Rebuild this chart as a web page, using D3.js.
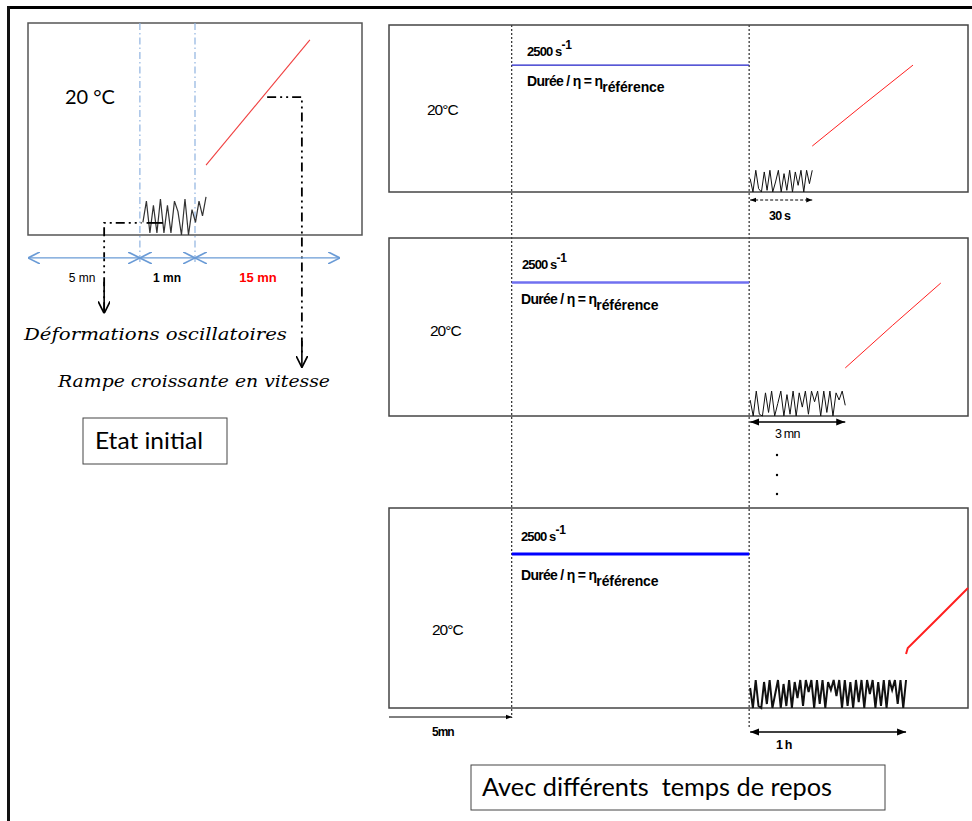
<!DOCTYPE html>
<html><head><meta charset="utf-8">
<script src="https://cdn.jsdelivr.net/npm/d3@7"></script>
<style>body{margin:0;background:#fff}svg{display:block}</style>
</head><body>
<script>
// ---------------- DATA (schematic units: x = % of panel width, y = % of panel height) ----------------
const leftPhases = [33.5, 50];            // end of rest (5 mn), end of oscillations (1 mn)
const leftPhaseLabels = ["5 mn", "1 mn", "15 mn"];
const leftOsc = [6,16,1,14,1,17,1,14,1,16,11,0,17,0,12,6,16,9,18];  // oscillatory deformation, initial state
const leftRamp = [[53.3,33],[84.4,92]];                              // increasing shear-rate ramp

const restLabels = ["30 s", "3 mn", "1 h"];
const shearLabel = "2500 s";
const shearPhase = [21.2, 62.2];          // pre-shear start / end
const restEnd = [73.1, 78.8, 89.3];       // end of rest/oscillation period per panel
const shearLevel = [76, 75, 77];          // level of the 2500 s-1 plateau
const osc30s = [8,0,13,2,0,12,1,13,0,6,13,0,11,1,13,0,12,4,13,0,13,5,13];
const osc3mn = [9,0,14,1,0,13,2,14,0,7,14,0,12,1,14,0,13,5,14,1,14,8,14,0,14,2,14,0,13,9,14,6];
const osc1h  = [10,0,14,1,0,13,2,14,0,7,14,0,12,1,14,0,13,5,14,1,14,8,14,0,14,2,14,0,13,9,14,6,14,0,14,1,13,0,14,3,14,0,14,7,14,0,13,1,14,0,14,9,14,2,14,0,14];
const ramp30s = [[73.1,27.5],[82,52.5],[90.5,76]];
const ramp3mn = [[78.8,27],[87,51],[95.3,74.7]];
const ramp1h  = [[89.3,27],[89.6,30],[95,45.5],[100,60]];

// ---------------- LAYOUT ----------------
const W = 972, H = 821;
const svg = d3.select("body").append("svg").attr("width", W).attr("height", H);
const defs = svg.append("defs");
function chevron(id, color, size) {
  defs.append("marker").attr("id", id).attr("viewBox", "0 0 10 10").attr("refX", 10).attr("refY", 5)
    .attr("markerWidth", size).attr("markerHeight", size).attr("markerUnits", "userSpaceOnUse")
    .attr("orient", "auto-start-reverse")
    .append("path").attr("d", "M0,0 L10,5 L0,10").attr("fill", "none").attr("stroke", color).attr("stroke-width", 1.4);
}
function tri(id, color, size) {
  defs.append("marker").attr("id", id).attr("viewBox", "0 0 10 10").attr("refX", 10).attr("refY", 5)
    .attr("markerWidth", size).attr("markerHeight", size).attr("markerUnits", "userSpaceOnUse")
    .attr("orient", "auto-start-reverse")
    .append("path").attr("d", "M0,1 L10,5 L0,9 Z").attr("fill", color);
}
chevron("blueChev", "#6a9bd6", 12);
chevron("blackChev", "#000", 12);
tri("tri", "#000", 9);
tri("triSmall", "#000", 6);

// outer frame
svg.append("line").attr("x1", 8).attr("x2", W).attr("y1", 7.5).attr("y2", 7.5).attr("stroke", "#000").attr("stroke-width", 3);
svg.append("line").attr("x1", 8.5).attr("x2", 8.5).attr("y1", 6).attr("y2", H).attr("stroke", "#111").attr("stroke-width", 3);

// ---------------- LEFT PANEL ----------------
const L = {x: 28, y: 23, w: 334, h: 212};
const xL = d3.scaleLinear().domain([0, 100]).range([L.x, L.x + L.w]);
const yL = d3.scaleLinear().domain([0, 100]).range([L.y + L.h, L.y]);
const gL = svg.append("g");
gL.append("rect").attr("x", L.x).attr("y", L.y).attr("width", L.w).attr("height", L.h)
  .attr("fill", "none").attr("stroke", "#555").attr("stroke-width", 1.5);

// phase separators (blue dash-dot)
gL.selectAll("line.sep").data(leftPhases).join("line")
  .attr("x1", d => xL(d)).attr("x2", d => xL(d)).attr("y1", L.y).attr("y2", yL(-13))
  .attr("stroke", "#8fb3e0").attr("stroke-width", 1.2).attr("stroke-dasharray", "7,3,1.5,3");

// oscillations
const xOscL = d3.scaleLinear().domain([0, leftOsc.length - 1]).range([xL(34.4), xL(53.3)]);
gL.append("path").datum(leftOsc)
  .attr("d", d3.line().x((d, i) => xOscL(i)).y(d => yL(d)))
  .attr("fill", "none").attr("stroke", "#333").attr("stroke-width", 1.2);

// ramp
gL.append("path").datum(leftRamp)
  .attr("d", d3.line().x(d => xL(d[0])).y(d => yL(d[1])))
  .attr("fill", "none").attr("stroke", "#f04040").attr("stroke-width", 1.1);

// dash-dot leader lines with arrows
const dd = "9,4,2,4,2,4";
gL.append("path").attr("d", `M${xL(22.8)},${yL(-36)} L${xL(22.8)},${yL(5.7)} L${xL(34)},${yL(5.7)}`)
  .attr("fill", "none").attr("stroke", "#000").attr("stroke-width", 1.8).attr("stroke-dasharray", dd);
gL.append("line").attr("x1", xL(22.8)).attr("x2", xL(22.8)).attr("y1", yL(-22)).attr("y2", yL(-37))
  .attr("stroke", "#000").attr("stroke-width", 1.6).attr("marker-end", "url(#blackChev)");
gL.append("line").attr("x1", xL(35.5)).attr("x2", xL(40.4)).attr("y1", yL(5.7)).attr("y2", yL(5.7))
  .attr("stroke", "#000").attr("stroke-width", 1.8);
gL.append("path").attr("d", `M${xL(71.6)},${yL(65)} L${xL(82)},${yL(65)} L${xL(82)},${yL(-56)}`)
  .attr("fill", "none").attr("stroke", "#000").attr("stroke-width", 1.8).attr("stroke-dasharray", dd);
gL.append("line").attr("x1", xL(82)).attr("x2", xL(82)).attr("y1", yL(-50)).attr("y2", yL(-62.5))
  .attr("stroke", "#000").attr("stroke-width", 1.6).attr("marker-end", "url(#blackChev)");

// phase double arrows
const arrowBounds = [0, ...leftPhases, 93.4];
const arrowY = yL(-10.8);
gL.selectAll("line.da").data(d3.range(3)).join("line")
  .attr("x1", i => xL(arrowBounds[i])).attr("x2", i => xL(arrowBounds[i + 1]))
  .attr("y1", arrowY).attr("y2", arrowY)
  .attr("stroke", "#6a9bd6").attr("stroke-width", 1.2)
  .attr("marker-start", "url(#blueChev)").attr("marker-end", "url(#blueChev)");
const labelCx = [82, 167, 258];
gL.selectAll("text.pl").data(leftPhaseLabels).join("text")
  .attr("x", (d, i) => labelCx[i]).attr("y", 282).attr("text-anchor", "middle")
  .attr("font-family", "Liberation Sans, Arial, sans-serif").attr("font-size", (d, i) => i === 2 ? 13 : 12)
  .attr("font-weight", (d, i) => i === 0 ? "normal" : "bold")
  .attr("fill", (d, i) => i === 2 ? "#ff0000" : "#000").text(d => d);

gL.append("text").attr("x", 65).attr("y", 104).attr("font-family", "Lato, sans-serif").attr("font-size", 20).text("20 °C");

gL.append("text").attr("x", 24).attr("y", 340).attr("font-family", "DejaVu Serif, serif").attr("font-style", "italic")
  .attr("font-size", 17.5).attr("textLength", 263).attr("lengthAdjust", "spacingAndGlyphs").text("Déformations oscillatoires");
gL.append("text").attr("x", 58).attr("y", 387).attr("font-family", "DejaVu Serif, serif").attr("font-style", "italic")
  .attr("font-size", 17.5).attr("textLength", 272).attr("lengthAdjust", "spacingAndGlyphs").text("Rampe croissante en vitesse");

gL.append("rect").attr("x", 83).attr("y", 418).attr("width", 144).attr("height", 46)
  .attr("fill", "#fff").attr("stroke", "#444").attr("stroke-width", 1);
gL.append("text").attr("x", 95).attr("y", 449).attr("font-family", "Lato, sans-serif").attr("font-size", 24)
  .attr("textLength", 108).attr("lengthAdjust", "spacingAndGlyphs").text("Etat initial");

// ---------------- RIGHT PANELS ----------------
const R = {x: 389, w: 579};
const tops = [25, 238, 508], heights = [167, 178, 200];
const xR = d3.scaleLinear().domain([0, 100]).range([R.x, R.x + R.w]);
const oscs = [osc30s, osc3mn, osc1h];
const ramps = [ramp30s, ramp3mn, ramp1h];
const blueCol = ["#2020c8", "#7070f0", "#0000ff"], blueW = [1.2, 2.4, 3];
const redW = [1, 1, 2], oscW = [1, 1, 2];
const tempX = [427, 430, 432], tempCy = [110, 331, 630];
const shearX = [527, 522, 521], shearCy = [51, 264, 536];
const dureeX = [527, 521, 521], dureeCy = [84, 302, 578];
const sansN = "Liberation Sans, Arial, sans-serif";

// guide dotted verticals
svg.append("line").attr("x1", xR(shearPhase[0])).attr("x2", xR(shearPhase[0])).attr("y1", tops[0]).attr("y2", 718)
  .attr("stroke", "#000").attr("stroke-width", 1).attr("stroke-dasharray", "2,2");
svg.append("line").attr("x1", xR(shearPhase[1])).attr("x2", xR(shearPhase[1])).attr("y1", tops[0]).attr("y2", 728)
  .attr("stroke", "#000").attr("stroke-width", 1).attr("stroke-dasharray", "2,2");

tops.forEach((top, p) => {
  const h = heights[p];
  const y = d3.scaleLinear().domain([0, 100]).range([top + h, top]);
  const g = svg.append("g");
  g.append("rect").attr("x", R.x).attr("y", top).attr("width", R.w).attr("height", h)
    .attr("fill", "none").attr("stroke", "#444").attr("stroke-width", 1.5);
  // 2500 s-1 plateau
  g.append("line").attr("x1", xR(shearPhase[0])).attr("x2", xR(shearPhase[1]))
    .attr("y1", y(shearLevel[p])).attr("y2", y(shearLevel[p]))
    .attr("stroke", blueCol[p]).attr("stroke-width", blueW[p]);
  // oscillations
  const o = oscs[p];
  const xo = d3.scaleLinear().domain([0, o.length - 1]).range([xR(shearPhase[1]) + 1, xR(restEnd[p])]);
  g.append("path").datum(o).attr("d", d3.line().x((d, i) => xo(i)).y(d => y(d)))
    .attr("fill", "none").attr("stroke", "#111").attr("stroke-width", oscW[p]);
  // ramp
  g.append("path").datum(ramps[p]).attr("d", d3.line().x(d => xR(d[0])).y(d => y(d[1])))
    .attr("fill", "none").attr("stroke", "#ff2020").attr("stroke-width", redW[p]);
  // texts
  g.append("text").attr("x", tempX[p]).attr("y", tempCy[p] + 5).attr("font-family", sansN).attr("font-size", 15.5)
    .attr("letter-spacing", -1).text("20°C");
  const t1 = g.append("text").attr("x", shearX[p]).attr("y", shearCy[p] + 5).attr("font-family", sansN)
    .attr("font-size", 13).attr("font-weight", "bold").attr("letter-spacing", -0.9);
  t1.append("tspan").text(shearLabel);
  t1.append("tspan").attr("dy", -7).attr("font-size", 12).attr("letter-spacing", 0).text("-1");
  const t2 = g.append("text").attr("x", dureeX[p]).attr("y", dureeCy[p] + 2).attr("font-family", sansN)
    .attr("font-size", 14).attr("font-weight", "bold").attr("letter-spacing", -0.7);
  t2.append("tspan").text("Durée / η = η");
  t2.append("tspan").attr("dy", 6).attr("letter-spacing", -0.1).text("référence");
});

// rest-duration arrows
const restArrowY = [200, 422, 732];
restArrowY.forEach((ay, p) => {
  svg.append("line").attr("x1", xR(shearPhase[1]) + 1).attr("x2", xR(restEnd[p]))
    .attr("y1", ay).attr("y2", ay).attr("stroke", "#000").attr("stroke-width", p === 0 ? 1 : 1.4)
    .attr("stroke-dasharray", p === 0 ? "3,2" : null)
    .attr("marker-start", p === 0 ? "url(#triSmall)" : "url(#tri)")
    .attr("marker-end", p === 0 ? "url(#triSmall)" : "url(#tri)");
});
const restLabX = [769, 775, 776], restLabY = [220, 438, 749];
svg.selectAll("text.rl").data(restLabels).join("text")
  .attr("x", (d, i) => restLabX[i]).attr("y", (d, i) => restLabY[i])
  .attr("font-family", sansN).attr("font-size", 12.5).attr("font-weight", (d, i) => i === 1 ? "normal" : "bold")
  .attr("letter-spacing", -0.8).text(d => d);

// ellipsis dots
svg.selectAll("circle.dot").data([455, 475, 494]).join("circle")
  .attr("cx", 777).attr("cy", d => d).attr("r", 1.2).attr("fill", "#000");

// 5 mn pre-rest arrow
svg.append("line").attr("x1", R.x).attr("x2", xR(shearPhase[0])).attr("y1", 717).attr("y2", 717)
  .attr("stroke", "#000").attr("stroke-width", 1).attr("marker-end", "url(#triSmall)");
svg.append("text").attr("x", 432).attr("y", 736).attr("font-family", sansN).attr("font-size", 12)
  .attr("font-weight", "bold").attr("letter-spacing", -1).text("5mn");

// caption box
svg.append("rect").attr("x", 471).attr("y", 765).attr("width", 414).attr("height", 45)
  .attr("fill", "#fff").attr("stroke", "#444").attr("stroke-width", 1);
svg.append("text").attr("x", 482).attr("y", 796).attr("font-family", "Lato, sans-serif").attr("font-size", 25)
  .attr("textLength", 350).attr("lengthAdjust", "spacingAndGlyphs")
  .attr("xml:space", "preserve").style("white-space", "pre").text("Avec différents  temps de repos");
</script>
</body></html>
